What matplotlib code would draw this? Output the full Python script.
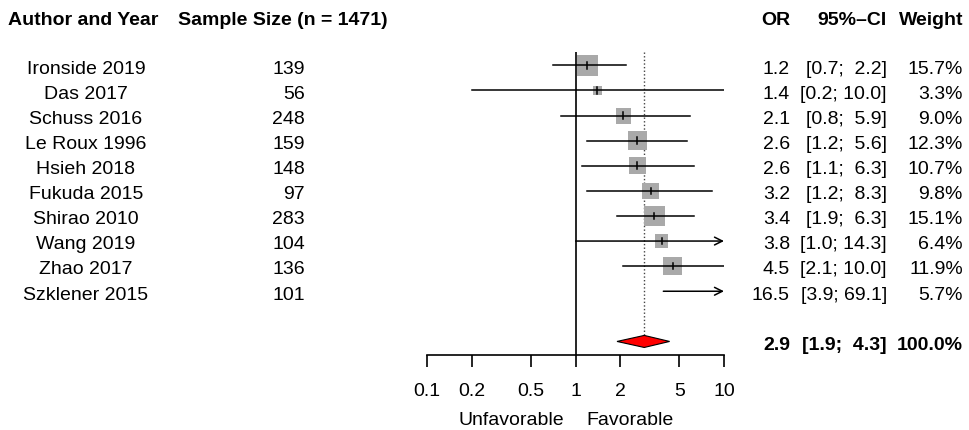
import matplotlib
matplotlib.use("Agg")
import matplotlib.pyplot as plt
from matplotlib.patches import Polygon
from matplotlib.transforms import blended_transform_factory

plt.rcParams['font.family'] = ['Liberation Sans', 'DejaVu Sans']

# study data
studies = ["Ironside 2019", "Das 2017", "Schuss 2016", "Le Roux 1996", "Hsieh 2018",
           "Fukuda 2015", "Shirao 2010", "Wang 2019", "Zhao 2017", "Szklener 2015"]
sample_size = [139, 56, 248, 159, 148, 97, 283, 104, 136, 101]
odds_ratio = [1.2, 1.4, 2.1, 2.6, 2.6, 3.2, 3.4, 3.8, 4.5, 16.5]
ci_low = [0.7, 0.2, 0.8, 1.2, 1.1, 1.2, 1.9, 1.0, 2.1, 3.9]
ci_high = [2.2, 10.0, 5.9, 5.6, 6.3, 8.3, 6.3, 14.3, 10.0, 69.1]
weight = [15.7, 3.3, 9.0, 12.3, 10.7, 9.8, 15.1, 6.4, 11.9, 5.7]

pooled_or = 2.9
pooled_low = 1.9
pooled_high = 4.3
total_n = 1471

ticks = [0.1, 0.2, 0.5, 1, 2, 5, 10]
tick_labels = ["0.1", "0.2", "0.5", "1", "2", "5", "10"]

FS = 14
W, H = 970, 431
fig = plt.figure(figsize=(W / 100, H / 100), dpi=100)
ax = fig.add_axes([427.3 / W, (H - 356) / H, (724 - 427.3) / W, (356 - 53.3) / H])
ax.set_xscale("log")
ax.set_xlim(0.1, 10)
ax.set_ylim(11.54, -0.52)
for s in ["top", "left", "right"]:
    ax.spines[s].set_visible(False)
ax.spines["bottom"].set_linewidth(1.2)
ax.set_yticks([])
ax.set_xticks(ticks)
ax.set_xticklabels(tick_labels, fontsize=FS)
ax.minorticks_off()
ax.tick_params(axis="x", direction="out", length=8.6, width=1.2, pad=11)

rows = list(range(len(studies)))
summary_row = 11

# reference lines
ax.axvline(1, color="black", lw=1.2, zorder=1)
ax.plot([pooled_or, pooled_or], [-0.52, summary_row - 0.24], color="#444444",
        lw=1, ls=(0, (1, 1.6)), zorder=1)

# squares, sized by weight (area ~ weight)
sizes = [(5.3 * w ** 0.5 * 0.72) ** 2 for w in weight]
ax.scatter(odds_ratio, rows, s=sizes, marker="s", color="#A9A9A9", lw=0, zorder=2)

# CI lines
for r, o, lo, hi in zip(rows, odds_ratio, ci_low, ci_high):
    x0 = max(lo, 0.1)
    x1 = min(hi, 10)
    if hi > 10:
        ax.annotate("", xy=(x1, r), xytext=(x0, r),
                    arrowprops=dict(arrowstyle="->", lw=1.1, color="black",
                                    shrinkA=0, shrinkB=0, mutation_scale=14))
    else:
        ax.plot([x0, x1], [r, r], color="black", lw=1.1, zorder=3)
    if 0.1 <= o <= 10:
        ax.plot([o, o], [r - 0.13, r + 0.13], color="black", lw=1.1, zorder=3)

# pooled diamond
ax.add_patch(Polygon([(pooled_low, summary_row), (pooled_or, summary_row - 0.24),
                      (pooled_high, summary_row), (pooled_or, summary_row + 0.24)],
                     closed=True, facecolor="red", edgecolor="black", lw=0.8, zorder=3))

# direction labels
ax.annotate("Unfavorable", xy=(1, 0), xycoords=("data", "axes fraction"),
            xytext=(-8.6, -50), textcoords="offset points",
            ha="right", va="baseline", fontsize=FS)
ax.annotate("Favorable", xy=(1, 0), xycoords=("data", "axes fraction"),
            xytext=(7.9, -50), textcoords="offset points",
            ha="left", va="baseline", fontsize=FS)

# text columns
tr = blended_transform_factory(fig.transFigure, ax.transData)
hdr_y = -1.665
ax.text(8 / W, hdr_y, "Author and Year", transform=tr, ha="left", va="baseline",
        fontsize=FS, fontweight="bold", clip_on=False)
ax.text(178 / W, hdr_y, "Sample Size (n = %d)" % total_n, transform=tr, ha="left",
        va="baseline", fontsize=FS, fontweight="bold", clip_on=False)
ax.text(790 / W, hdr_y, "OR", transform=tr, ha="right", va="baseline",
        fontsize=FS, fontweight="bold", clip_on=False)
ax.text(887 / W, hdr_y, "95%\u2013CI", transform=tr, ha="right", va="baseline",
        fontsize=FS, fontweight="bold", clip_on=False)
ax.text(963 / W, hdr_y, "Weight", transform=tr, ha="right", va="baseline",
        fontsize=FS, fontweight="bold", clip_on=False)

dy = 0.29
for r, name, n, o, lo, hi, w in zip(rows, studies, sample_size, odds_ratio,
                                     ci_low, ci_high, weight):
    ax.text(86 / W, r + dy, name, transform=tr, ha="center", va="baseline",
            fontsize=FS, clip_on=False)
    ax.text(305 / W, r + dy, str(n), transform=tr, ha="right", va="baseline",
            fontsize=FS, clip_on=False)
    ax.text(790 / W, r + dy, "%.1f" % o, transform=tr, ha="right", va="baseline",
            fontsize=FS, clip_on=False)
    ax.text(887 / W, r + dy, "[%.1f; %4.1f]" % (lo, hi), transform=tr, ha="right",
            va="baseline", fontsize=FS, clip_on=False)
    ax.text(963 / W, r + dy, "%.1f%%" % w, transform=tr, ha="right", va="baseline",
            fontsize=FS, clip_on=False)

ax.text(790 / W, summary_row + dy, "%.1f" % pooled_or, transform=tr, ha="right",
        va="baseline", fontsize=FS, fontweight="bold", clip_on=False)
ax.text(887 / W, summary_row + dy, "[%.1f; %4.1f]" % (pooled_low, pooled_high),
        transform=tr, ha="right", va="baseline", fontsize=FS, fontweight="bold",
        clip_on=False)
ax.text(963 / W, summary_row + dy, "100.0%", transform=tr, ha="right",
        va="baseline", fontsize=FS, fontweight="bold", clip_on=False)

fig.savefig("out.png", dpi=100)
